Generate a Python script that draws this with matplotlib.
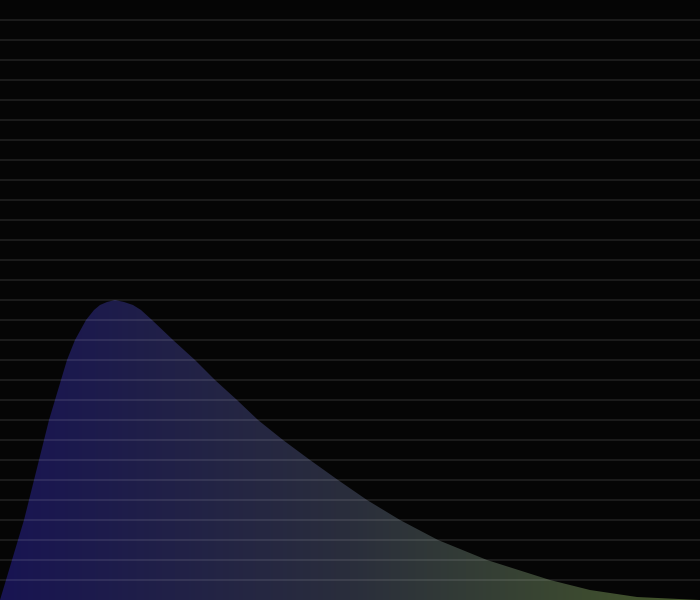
import numpy as np
import matplotlib
matplotlib.use("Agg")
import matplotlib.pyplot as plt
from matplotlib.colors import LinearSegmentedColormap

# curve (x in 50px units, y in grid steps)
xs = [0, 0.12, 0.24, 0.36, 0.48, 0.58, 0.68, 0.78, 0.88, 0.98, 1.10, 1.22,
      1.34, 1.50, 1.72, 1.88, 2.00, 2.14, 2.30, 2.48, 2.66, 2.82, 3.04, 3.46,
      3.90, 4.30, 4.74, 5.16, 5.66, 6.20, 6.76, 7.34, 8.00, 8.76, 9.74, 11.00,
      11.80, 12.74, 14.00]
ys = [0, 1, 2, 3, 4, 5, 6, 7, 8, 9, 10, 11,
      12, 13, 14, 14.5, 14.75, 14.9, 15, 14.9, 14.75, 14.5, 14, 13,
      12, 11, 10, 9, 8, 7, 6, 5, 4, 3, 2, 1,
      0.5, 0.15, 0]

grid_levels = list(range(1, 30))

bg = "#050505"
cmap = LinearSegmentedColormap.from_list("fillgrad", ["#181452", "#2a2e3c", "#45582a"])

fig = plt.figure(figsize=(7, 6), dpi=100, facecolor=bg)
ax = fig.add_axes([0, 0, 1, 1])
ax.set_facecolor(bg)
ax.set_xlim(0, 14)
ax.set_ylim(0, 30)

# gradient clipped to the area under the curve
poly = ax.fill_between(xs, ys, 0, color="none", lw=0)
grad = np.linspace(0, 1, 256).reshape(1, -1)
im = ax.imshow(grad, cmap=cmap, aspect="auto", extent=[0, 14, 0, 30],
               origin="lower", zorder=1)
path = poly.get_paths()[0]
im.set_clip_path(path, transform=ax.transData)

for lv in grid_levels:
    ax.axhline(lv, color="white", alpha=0.09, lw=1.5, zorder=2)

ax.axis("off")
fig.savefig("out.png", dpi=100, facecolor=bg)
